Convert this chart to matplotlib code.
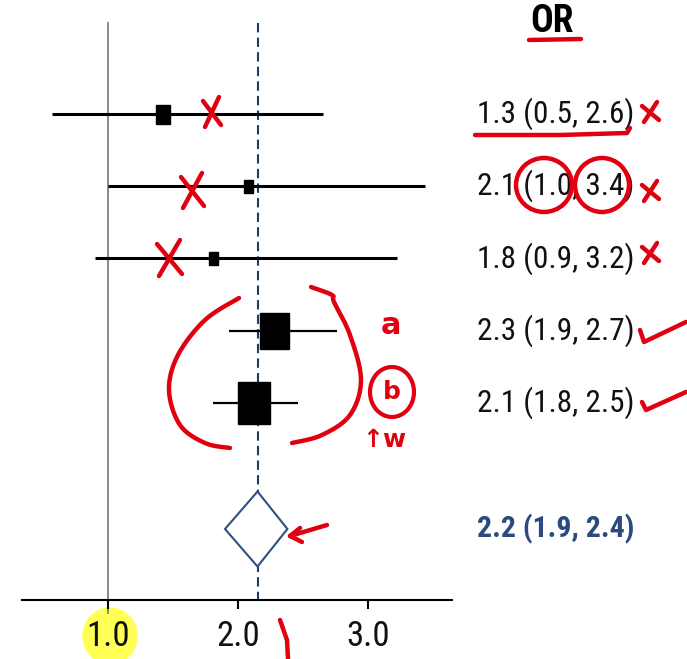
import numpy as np
import matplotlib.pyplot as plt
from matplotlib.patches import Rectangle, Polygon, Ellipse
from matplotlib.lines import Line2D
from matplotlib.transforms import Affine2D

plt.rcParams['font.family'] = ['Roboto Condensed', 'Liberation Sans Narrow',
                               'Liberation Sans', 'DejaVu Sans']

# Study estimates as drawn and their printed labels
est = [1.42, 2.08, 1.81, 2.28, 2.12]
lo = [0.57, 1.00, 0.90, 1.93, 1.81]
hi = [2.65, 3.44, 3.22, 2.76, 2.46]
labels = ['1.3 (0.5, 2.6)', '2.1 (1.0, 3.4)', '1.8 (0.9, 3.2)',
          '2.3 (1.9, 2.7)', '2.1 (1.8, 2.5)']
box_w = [14, 9, 9, 29, 32]   # px
box_h = [19, 13, 13, 36, 42]  # px

# Pooled estimate
pool_est, pool_lo, pool_hi = 2.15, 1.90, 2.38
pool_label = '2.2 (1.9, 2.4)'

xticks = [1.0, 2.0, 3.0]
xticklabels = ['1.0', '2.0', '3.0']

W, H = 687, 659
fig = plt.figure(figsize=(W / 100, H / 100), dpi=100)
ax = fig.add_axes([22 / W, (H - 600) / H, 430 / W, 600 / H])
ax.set_facecolor('none')

PXX = 130.0   # px per OR unit
PXY = 72.2    # px per row
row = lambda py: (py - 114) / PXY
dx = lambda px: (px - 108) / PXX + 1

ax.set_xlim(dx(22), dx(452))
ax.set_ylim(row(600), row(0))

# null line and pooled dashed line
ax.plot([1, 1], [row(23), row(613)], color='#808080', lw=1.3, clip_on=False, zorder=1)
ax.plot([pool_est, pool_est], [row(23), row(600)], color='#1F3B66', lw=1.5,
        dashes=(4.5, 2.5), zorder=1)

for i in range(len(est)):
    lw = 2.2 if i < 3 else 1.6
    ax.plot([lo[i], hi[i]], [i, i], color='black', lw=lw, solid_capstyle='butt', zorder=2)
    w = box_w[i] / PXX
    h = box_h[i] / PXY
    ax.add_patch(Rectangle((est[i] - w / 2, i - h / 2), w, h, color='black', zorder=3))
    ax.text(dx(477), i, labels[i], ha='left', va='center', fontsize=22.5, color='#111111')

yp = row(529)
dh = 75 / PXY / 2
ax.add_patch(Polygon([(pool_lo, yp), (pool_est, yp - dh), (pool_hi, yp), (pool_est, yp + dh)],
                     closed=True, facecolor='white', edgecolor='#2F4F7F', lw=1.5, zorder=3))
ax.text(dx(477), yp, pool_label, ha='left', va='center', fontsize=21.5,
        fontweight='bold', color='#2B4A7E')
ax.text(dx(552), row(22), 'OR', ha='center', va='center', fontsize=27, fontweight='bold')

for s in ['left', 'top', 'right']:
    ax.spines[s].set_visible(False)
ax.spines['bottom'].set_linewidth(1.5)
ax.set_yticks([])
ax.set_xticks(xticks)
ax.set_xticklabels(xticklabels, fontsize=25, color='#111111')
ax.tick_params(axis='x', length=6.5, width=1.5, pad=8)

# handwritten marks, in image pixel coordinates
pix = Affine2D().scale(1 / W, -1 / H).translate(0, 1) + fig.transFigure
RED = '#E00010'


def stroke(xs, ys, lw=3.2):
    fig.add_artist(Line2D(xs, ys, color=RED, lw=lw, transform=pix,
                          solid_capstyle='round', solid_joinstyle='round'))


def smooth(pts, lw=3.2, n=20):
    # catmull-rom through the given points
    p = np.array(pts, dtype=float)
    p = np.vstack([p[0], p, p[-1]])
    out = []
    for k in range(1, len(p) - 2):
        p0, p1, p2, p3 = p[k - 1], p[k], p[k + 1], p[k + 2]
        for t in np.linspace(0, 1, n):
            out.append(0.5 * (2 * p1 + (-p0 + p2) * t
                              + (2 * p0 - 5 * p1 + 4 * p2 - p3) * t ** 2
                              + (-p0 + 3 * p1 - 3 * p2 + p3) * t ** 3))
    out = np.array(out)
    stroke(out[:, 0], out[:, 1], lw)


def cross(x0, y0, x1, y1):
    stroke([x0, x1], [y0 + 4, y1 - 2])
    stroke([x1 - 2, x0 + 2], [y0, y1])


# yellow highlight on 1.0
fig.add_artist(Ellipse((110, 636), 54, 56, color='#FFFF55', transform=pix, zorder=-1))

cross(203, 97, 221, 127)
cross(181, 173, 204, 208)
cross(157, 240, 182, 276)
for yy in [112, 191, 253]:
    cross(642, yy - 10, 659, yy + 10)

stroke([475, 560, 627, 630], [135, 135, 133, 128])
stroke([529, 581], [40, 39])
fig.add_artist(Ellipse((544, 185), 56, 54, fill=False, ec=RED, lw=3.2, transform=pix))
fig.add_artist(Ellipse((602, 185), 54, 54, fill=False, ec=RED, lw=3.2, transform=pix))

smooth([(239, 298), (205, 320), (178, 355), (169, 390), (180, 425), (205, 443), (230, 448)])
smooth([(311, 287), (332, 295), (334, 302), (350, 335), (361, 380), (350, 415),
        (322, 435), (292, 443)])

stroke([640, 644, 686], [330, 342, 322])
stroke([642, 646, 686], [402, 410, 392])

fig.text(391, 325, 'a', transform=pix, color=RED, fontsize=22, ha='center', va='center',
         family='DejaVu Sans', fontweight='bold')
fig.add_artist(Ellipse((392, 392), 44, 50, fill=False, ec=RED, lw=3, transform=pix))
fig.text(392, 392, 'b', transform=pix, color=RED, fontsize=18, ha='center', va='center',
         family='DejaVu Sans', fontweight='bold')
fig.text(384, 440, '↑w', transform=pix, color=RED, fontsize=18, ha='center', va='center',
         family='DejaVu Sans', fontweight='bold')

stroke([327, 290], [525, 536])
stroke([300, 290, 302], [528, 536, 542])
stroke([280, 287, 288], [620, 640, 659])

fig.savefig('out.png', dpi=100)
